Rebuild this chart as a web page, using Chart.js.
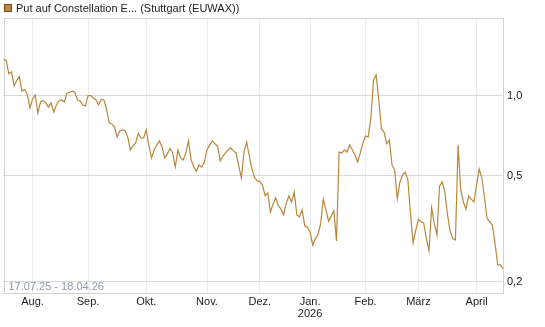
<!DOCTYPE html>
<html>
<head>
<meta charset="utf-8">
<script src="https://cdn.jsdelivr.net/npm/chart.js@4.4.1/dist/chart.umd.min.js"></script>
<style>
  html, body { margin: 0; padding: 0; background: #ffffff; }
  #wrap { width: 545px; height: 327px; }
</style>
</head>
<body>
<div id="wrap"><canvas id="c" width="545" height="327"></canvas></div>
<script>
// ---- data (trading days 17.07.25 - 17.04.26) ----
const seriesLabel = 'Put auf Constellation E... (Stuttgart (EUWAX))';
const dateRangeLabel = '17.07.25 - 18.04.26';

const julValues = [1.37, 1.36, 1.21, 1.23, 1.09, 1.14, 1.18, 1.04, 1.055, 1.01, 0.90];
const augValues = [0.97, 1.006, 0.86, 0.947, 0.959, 0.94, 0.906, 0.94, 0.868, 0.923, 0.955, 0.963, 0.947, 1.02, 1.03, 1.04, 1.03, 0.963, 0.955, 0.923, 0.915];
const sepValues = [1.0, 1.0, 0.978, 0.963, 0.923, 0.97, 0.963, 0.89, 0.79, 0.783, 0.763, 0.70, 0.736, 0.743, 0.736, 0.70, 0.625, 0.647, 0.664, 0.722, 0.693, 0.693];
const octValues = [0.743, 0.652, 0.583, 0.625, 0.652, 0.676, 0.64, 0.583, 0.604, 0.633, 0.609, 0.539, 0.625, 0.583, 0.573, 0.609, 0.676, 0.573, 0.539, 0.52, 0.549, 0.539, 0.563];
const novValues = [0.625, 0.652, 0.676, 0.658, 0.647, 0.568, 0.593, 0.609, 0.625, 0.636, 0.62, 0.609, 0.544, 0.49, 0.614, 0.67, 0.593, 0.53, 0.492, 0.478];
const decValues = [0.475, 0.461, 0.42, 0.43, 0.365, 0.391, 0.413, 0.385, 0.375, 0.356, 0.394, 0.42, 0.398, 0.434, 0.356, 0.35, 0.372, 0.323, 0.32];
const janValues = [0.307, 0.274, 0.29, 0.30, 0.33, 0.408, 0.372, 0.337, 0.353, 0.368, 0.284, 0.614, 0.609, 0.625, 0.614, 0.652, 0.625, 0.598, 0.563, 0.609, 0.664];
const febValues = [0.705, 0.70, 0.824, 1.146, 1.196, 0.963, 0.75, 0.73, 0.658, 0.681, 0.549, 0.525, 0.41, 0.474, 0.503, 0.516, 0.482, 0.36, 0.279, 0.312];
const marValues = [0.343, 0.335, 0.332, 0.29, 0.261, 0.378, 0.33, 0.299, 0.457, 0.474, 0.434, 0.356, 0.31, 0.29, 0.287, 0.652, 0.442, 0.398, 0.375, 0.42, 0.408, 0.398];
const aprValues = [0.461, 0.53, 0.49, 0.414, 0.345, 0.335, 0.326, 0.277, 0.231, 0.231, 0.223];

// month tick labels and the trading-day index of each month's first day
const monthLabels = ['Aug.', 'Sep.', 'Okt.', 'Nov.', 'Dez.', ['Jan.', '2026'], 'Feb.', 'März', 'April'];
const monthIndex = [11, 32, 54, 77, 97, 116, 137, 157, 179];

// y-axis tick values
const yTicks = [0.2, 0.5, 1.0];
const yMin = 0.181;
const yMax = 1.96;

// ---- build ----
const values = [].concat(julValues, augValues, sepValues, octValues, novValues,
                         decValues, janValues, febValues, marValues, aprValues);
const points = values.map((v, i) => ({ x: i, y: v }));

const lineColor = '#b8873c';
const gridH = '#dadada';
const gridV = '#ececec';
const frameColor = '#d2d2d2';
const fontFamily = '"Liberation Sans", Arial, sans-serif';

const framePlugin = {
  id: 'frame',
  beforeDatasetsDraw(chart) {
    const { ctx, chartArea: a } = chart;
    ctx.save();
    ctx.strokeStyle = frameColor;
    ctx.lineWidth = 1;
    ctx.strokeRect(Math.round(a.left) + 0.5, Math.round(a.top) + 0.5,
                   Math.round(a.right - a.left) - 1, Math.round(a.bottom - a.top));
    ctx.restore();
  },
  afterDatasetsDraw(chart) {
    const { ctx, chartArea: a } = chart;
    ctx.save();
    ctx.font = '11px ' + fontFamily;
    ctx.fillStyle = '#8e9aab';
    ctx.textBaseline = 'middle';
    ctx.textAlign = 'left';
    ctx.fillText(dateRangeLabel, a.left + 5, a.bottom - 6);
    ctx.restore();
  },
  afterDraw(chart) {
    // legend (single series)
    const { ctx } = chart;
    const ds = chart.data.datasets[0];
    ctx.save();
    ctx.fillStyle = ds.backgroundColor;
    ctx.fillRect(4, 4, 8, 8);
    ctx.strokeStyle = '#6e5024';
    ctx.lineWidth = 1;
    ctx.strokeRect(4.5, 4.5, 7, 7);
    ctx.font = '11px ' + fontFamily;
    ctx.fillStyle = '#222222';
    ctx.textBaseline = 'middle';
    ctx.textAlign = 'left';
    ctx.fillText(ds.label, 16, 8.5);
    ctx.restore();
  }
};

new Chart(document.getElementById('c'), {
  type: 'line',
  data: {
    datasets: [{
      label: seriesLabel,
      data: points,
      borderColor: lineColor,
      backgroundColor: lineColor,
      borderWidth: 1.2,
      pointRadius: 0,
      tension: 0,
      fill: false
    }]
  },
  options: {
    responsive: false,
    animation: false,
    devicePixelRatio: 1,
    layout: { padding: { left: 3.5, right: 0, top: 18, bottom: 0 } },
    plugins: {
      tooltip: { enabled: false },
      legend: { display: false }
    },
    scales: {
      x: {
        type: 'linear',
        min: 0,
        max: values.length - 1,
        afterBuildTicks: (scale) => { scale.ticks = monthIndex.map(v => ({ value: v })); },
        afterFit: (scale) => { scale.height = 34; },
        grid: { color: gridV, lineWidth: 1, drawTicks: false },
        border: { display: true, color: frameColor },
        ticks: {
          autoSkip: false,
          maxRotation: 0,
          padding: 3,
          color: '#222222',
          font: { family: fontFamily, size: 11, lineHeight: 1.1 },
          callback: (value) => {
            const k = monthIndex.indexOf(value);
            return k >= 0 ? monthLabels[k] : '';
          }
        }
      },
      y: {
        type: 'logarithmic',
        position: 'right',
        min: yMin,
        max: yMax,
        afterBuildTicks: (scale) => { scale.ticks = yTicks.map(v => ({ value: v })); },
        afterFit: (scale) => { scale.width = 42; },
        grid: { color: gridH, lineWidth: 1, drawTicks: false },
        border: { display: true, color: frameColor },
        ticks: {
          padding: 4,
          color: '#222222',
          font: { family: fontFamily, size: 11 },
          callback: (value) => Number(value).toFixed(1).replace('.', ',')
        }
      }
    }
  },
  plugins: [framePlugin]
});
</script>
</body>
</html>
